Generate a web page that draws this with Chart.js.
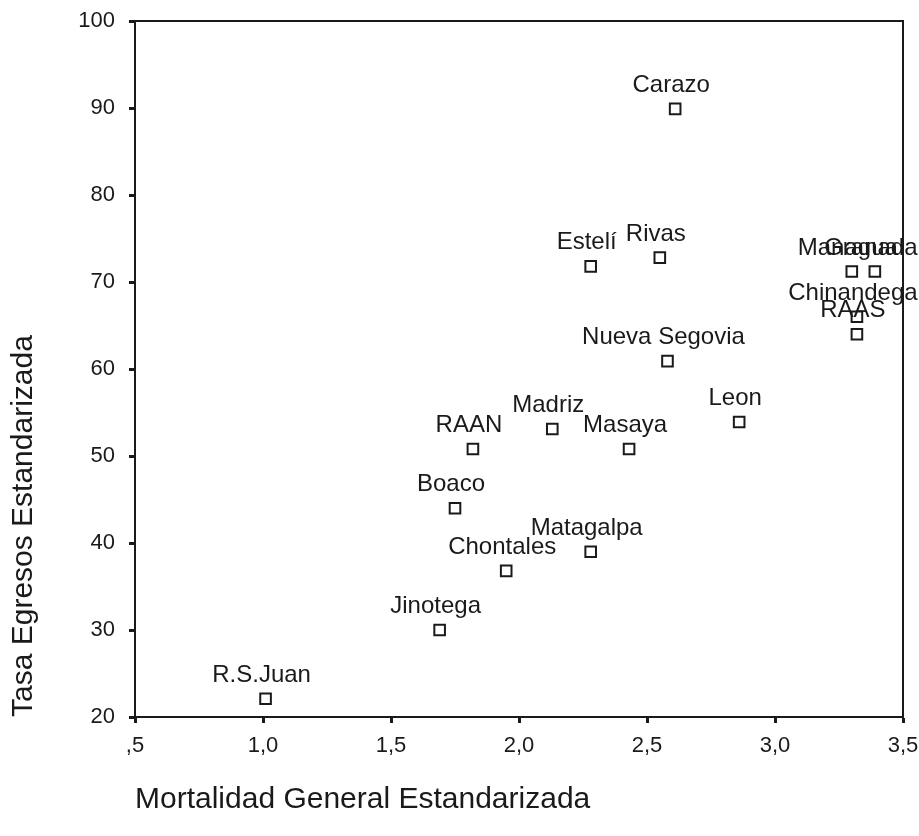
<!DOCTYPE html>
<html>
<head>
<meta charset="utf-8">
<script src="https://cdn.jsdelivr.net/npm/chart.js@4/dist/chart.umd.min.js"></script>
<style>
  html, body { margin: 0; padding: 0; background: #fff; }
  #wrap { width: 919px; height: 836px; }
</style>
</head>
<body>
<div id="wrap"><canvas id="c" width="919" height="836"></canvas></div>
<script>
const names = ["Carazo","Estelí","Rivas","Managua","Granada","Chinandega","RAAS","Nueva Segovia","Leon","Madriz","RAAN","Masaya","Boaco","Matagalpa","Chontales","Jinotega","R.S.Juan"];
const mortalidad = [2.61,2.28,2.55,3.30,3.39,3.32,3.32,2.58,2.86,2.13,1.82,2.43,1.75,2.28,1.95,1.69,1.01];
const egresos = [89.9,71.8,72.8,71.2,71.2,66.0,64.0,60.9,53.9,53.1,50.8,50.8,44.0,39.0,36.8,30.0,22.1];
const xTickLabels = [",5","1,0","1,5","2,0","2,5","3,0","3,5"];
const yTickLabels = ["20","30","40","50","60","70","80","90","100"];
const xTitle = "Mortalidad General Estandarizada";
const yTitle = "Tasa Egresos Estandarizada";

const points = mortalidad.map((v, i) => ({ x: v, y: egresos[i] }));
const ink = "#1a1a1a";
const fam = "'Liberation Sans', Arial, sans-serif";

const frame = {
  id: "frame",
  afterDraw(chart) {
    const a = chart.chartArea, ctx = chart.ctx;
    ctx.save();
    ctx.strokeStyle = ink;
    ctx.lineWidth = 2;
    ctx.strokeRect(a.left, a.top, a.right - a.left, a.bottom - a.top);
    ctx.restore();
  }
};

const pointLabels = {
  id: "pointLabels",
  afterDatasetsDraw(chart) {
    const ctx = chart.ctx;
    const meta = chart.getDatasetMeta(0);
    ctx.save();
    ctx.fillStyle = ink;
    ctx.font = "24px " + fam;
    ctx.textAlign = "center";
    ctx.textBaseline = "alphabetic";
    meta.data.forEach((el, i) => {
      ctx.fillText(names[i], el.x - 4, el.y - 17);
    });
    ctx.restore();
  }
};

new Chart(document.getElementById("c"), {
  type: "scatter",
  data: {
    datasets: [{
      data: points,
      pointStyle: "rect",
      pointRadius: 7.5,
      pointHoverRadius: 7.5,
      borderWidth: 2,
      borderColor: ink,
      backgroundColor: "#fff"
    }]
  },
  options: {
    responsive: false,
    animation: false,
    events: [],
    layout: { padding: { top: 21, right: 16, left: 0, bottom: 0 } },
    plugins: { legend: { display: false }, tooltip: { enabled: false } },
    scales: {
      x: {
        type: "linear",
        min: 0.5, max: 3.5,
        afterBuildTicks(s) { s.ticks = xTickLabels.map((t, i) => ({ value: 0.5 + 0.5 * i })); },
        afterFit(s) { s.height = 119; s.paddingLeft = 0; s.paddingRight = 0; },
        ticks: {
          callback: (v, i) => xTickLabels[i],
          color: ink,
          font: { family: fam, size: 22 },
          padding: 10,
          maxRotation: 0
        },
        grid: { display: true, drawOnChartArea: false, drawTicks: true, tickLength: 6, tickWidth: 3, color: ink },
        border: { display: true, color: ink, width: 2 },
        title: {
          display: true, text: xTitle, align: "start", color: ink,
          font: { family: fam, size: 30 },
          padding: { top: 0, bottom: 18 }
        }
      },
      y: {
        type: "linear",
        min: 20, max: 100,
        afterBuildTicks(s) { s.ticks = yTickLabels.map((t) => ({ value: Number(t) })); },
        afterFit(s) { s.width = 135; s.paddingTop = 0; s.paddingBottom = 0; },
        ticks: {
          callback: (v, i) => yTickLabels[i],
          color: ink,
          font: { family: fam, size: 22 },
          padding: 14
        },
        grid: { display: true, drawOnChartArea: false, drawTicks: true, tickLength: 6, tickWidth: 3, color: ink },
        border: { display: true, color: ink, width: 2 },
        title: {
          display: true, text: yTitle, align: "start", color: ink,
          font: { family: fam, size: 30 },
          padding: { top: 6, bottom: 0 }
        }
      }
    }
  },
  plugins: [frame, pointLabels]
});
</script>
</body>
</html>
